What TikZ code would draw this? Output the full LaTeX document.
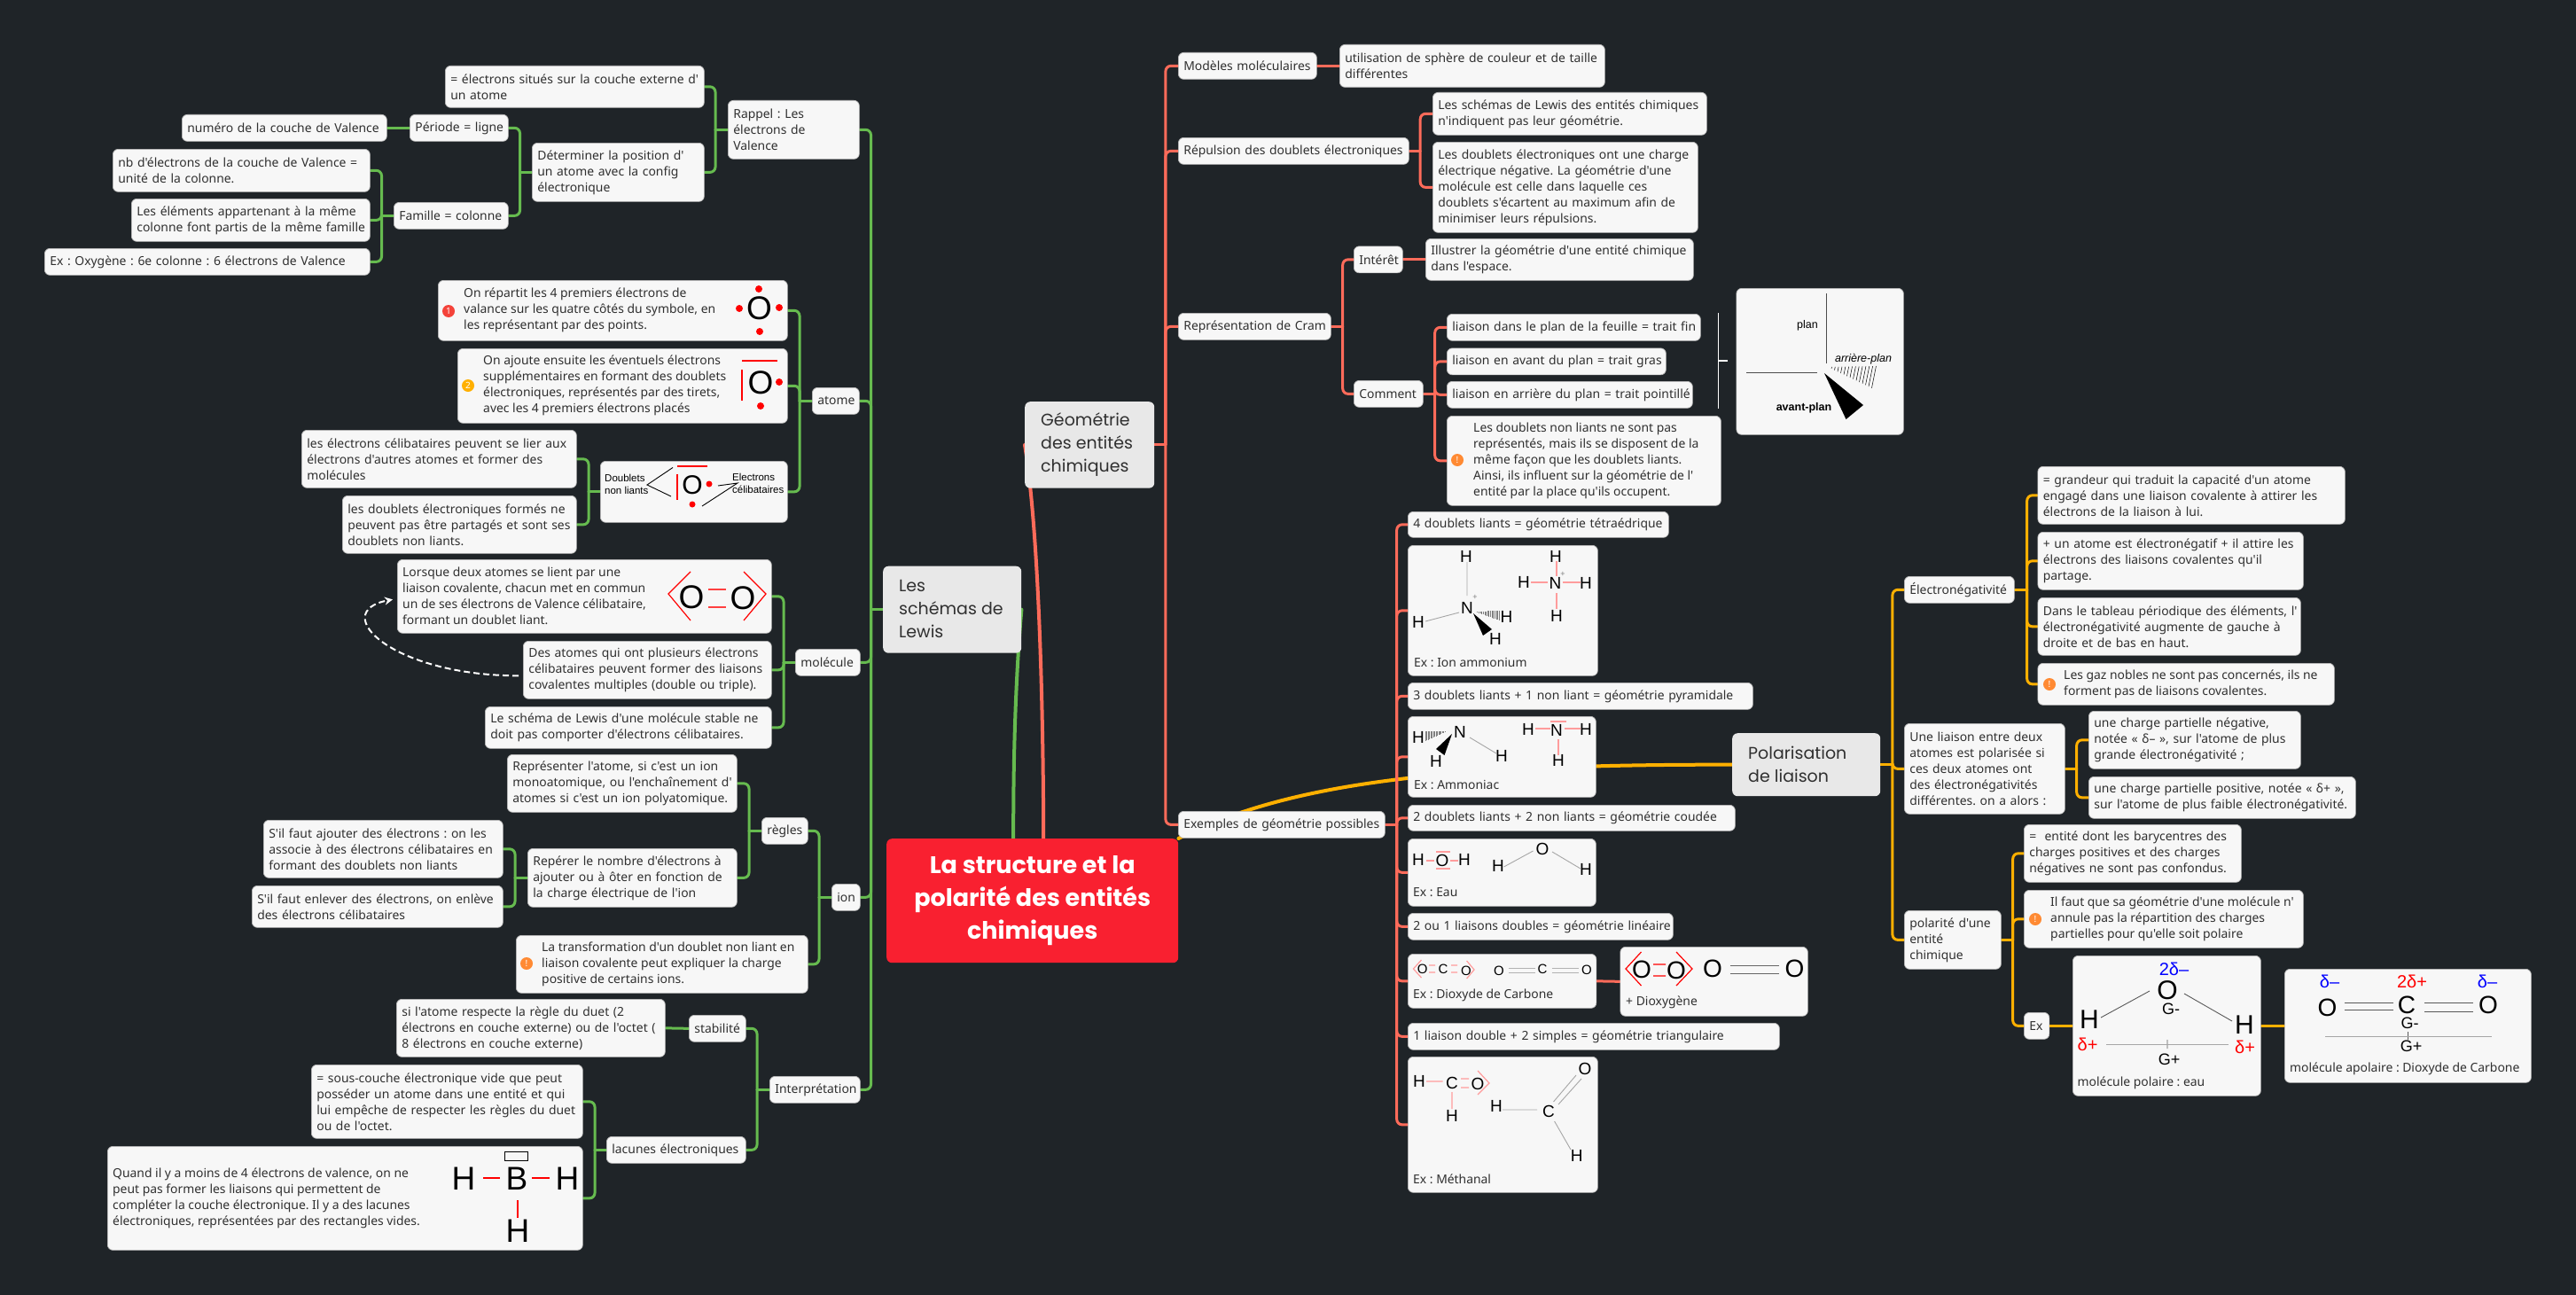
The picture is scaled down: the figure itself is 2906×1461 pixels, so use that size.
\documentclass[tikz,border=0pt]{standalone}
\usepackage{fontspec}
\newfontfamily\bodyfont{Noto Sans}
\newfontfamily\chemfont{Liberation Sans}
\newfontfamily\titlefont{Poppins}
\usetikzlibrary{arrows.meta,backgrounds,calc}
\definecolor{pagebg}{HTML}{1F2428}
\definecolor{leafbg}{HTML}{F7F7F7}
\definecolor{topicbg}{HTML}{E8E8E8}
\definecolor{rootred}{HTML}{F92030}
\definecolor{inkdark}{HTML}{303030}
\definecolor{lgreen}{HTML}{66BB4F}
\definecolor{lred}{HTML}{FF6B5A}
\definecolor{lgold}{HTML}{FFB000}
\definecolor{iconred}{HTML}{F4433A}
\definecolor{iconorange}{HTML}{FF8A33}
\definecolor{bondpink}{HTML}{FF9C9C}
\tikzset{
  leaf/.code 2 args={\pgfmathsetlengthmacro\leafw{#1-4}\tikzset{minimum width=#1,minimum height=#2,text width=\leafw}},
  box/.style={anchor=north west,draw=gray!55,line width=0.7,fill=leafbg,rounded corners=6,text=inkdark,inner xsep=2,inner ysep=0,align=left,
    font=\bodyfont\frenchspacing\fontsize{13.9}{18}\selectfont,execute at begin node={\leftskip=4pt}},
  plate/.style={anchor=north west,draw=gray!55,line width=0.7,fill=leafbg,rounded corners=6,inner sep=0},
  txt/.style={anchor=west,inner sep=0,text=inkdark,align=left,font=\bodyfont\frenchspacing\fontsize{13.9}{18}\selectfont},
  topic/.style={anchor=north west,fill=topicbg,rounded corners=6,inner sep=0,text=inkdark},
  topictxt/.style={anchor=west,inner sep=0,text=inkdark,align=left,font=\titlefont\fontsize{19}{26}\selectfont},
  icon/.style={circle,fill=#1,text=white,inner sep=0,minimum size=14,font=\bodyfont\fontsize{10}{10}\selectfont\bfseries},
  chemS/.style={inner sep=0,font=\chemfont\fontsize{19}{19}\selectfont},
  chemT/.style={inner sep=0,font=\chemfont\fontsize{15}{15}\selectfont},
  chemM/.style={inner sep=0,font=\chemfont\fontsize{28}{28}\selectfont},
  chemB/.style={inner sep=0,font=\chemfont\fontsize{30}{30}\selectfont},
  chemL/.style={inner sep=0,font=\chemfont\fontsize{37}{37}\selectfont},
  chemN/.style={inner sep=0,font=\chemfont\fontsize{18}{18}\selectfont},
  small/.style={inner sep=0,align=left,font=\chemfont\fontsize{11.5}{14}\selectfont},
  linkg/.style={draw=lgreen,line width=3,rounded corners=6,line cap=round},
  linkr/.style={draw=lred,line width=3,rounded corners=6,line cap=round},
  linky/.style={draw=lgold,line width=3,rounded corners=6,line cap=round},
  bond/.style={draw=bondpink,line width=1.2},
  redbond/.style={draw=red,line width=1.2},
  thinbond/.style={draw=gray!70,line width=0.9},
}

\begin{document}
\begin{tikzpicture}[x=1pt,y=-1pt]
\useasboundingbox (0,0) rectangle (2906,1461);
\begin{scope}[on background layer]
  \fill[pagebg] (0,0) rectangle (2906,1461);
\end{scope}

% centre
\node[anchor=north west,fill=rootred,rounded corners=6,minimum width=329,minimum height=140,text=white,align=center,inner sep=0,
  font=\titlefont\bfseries\fontsize{27}{37}\selectfont] (rootnode) at (1000,946) {La structure et la\\polarité des entités\\chimiques};

% les schemas de Lewis
\node[topic,minimum width=156,minimum height=98] (schemas) at (996,638.5) {};
\node[topictxt] (schemasT) at (1014,687) {Les\\schémas de\\Lewis};

\node[box,leaf={148}{66}] (rappel) at (821,113) {Rappel : Les\\électrons de\\Valence};
\node[box,leaf={292}{47}] (situes) at (502,74) {= électrons situés sur la couche externe d'\\un atome};
\node[box,leaf={194}{66}] (position) at (600,161) {Déterminer la position d'\\un atome avec la config\\électronique};
\node[box,leaf={111}{30}] (periode) at (462,129) {Période = ligne};
\node[box,leaf={231}{30}] (numero) at (205,129) {numéro de la couche de Valence};
\node[box,leaf={129}{30}] (famille) at (444,228) {Famille = colonne};
\node[box,leaf={290}{48}] (unite) at (127,168) {nb d'électrons de la couche de Valence =\\unité de la colonne.};
\node[box,leaf={269}{48}] (elements) at (148,224) {Les éléments appartenant à la même\\colonne font partis de la même famille};
\node[box,leaf={367}{30}] (oxygene) at (50,280) {Ex : Oxygène : 6e colonne : 6 électrons de Valence};

\node[box,leaf={53}{30}] (atome) at (916,437) {atome};
\node[plate,minimum width=394,minimum height=68] (repartit) at (494,316) {};
\node[icon=iconred] (repI) at (506,351) {1};
\node[txt] (repT) at (523,350) {On répartit les 4 premiers électrons de\\valance sur les quatre côtés du symbole, en\\les représentant par des points.};
\node[chemL] (repO) at (856.5,348) {O};
\foreach \px/\py in {856/326,834/348,879/347,857/374} \fill[red] (\px,\py) circle (4);
\node[plate,minimum width=372,minimum height=84] (ajoute) at (516,393) {};
\node[icon=lgold] (ajoI) at (528,435) {2};
\node[txt] (ajoT) at (545,435) {On ajoute ensuite les éventuels électrons\\supplémentaires en formant des doublets\\électroniques, représentés par des tirets,\\avec les 4 premiers électrons placés};
\node[chemL] (ajoO) at (858,432) {O};
\draw[redbond] (837,407) -- (877,407) (837,417) -- (837,452);
\foreach \px/\py in {879/431,858/458} \fill[red] (\px,\py) circle (4);
\node[plate,minimum width=211,minimum height=69] (nonliants) at (677,520) {};
\node[small,anchor=west] (nonT) at (682,546) {Doublets\\non liants};
\node[chemB] (nonO) at (781,547) {O};
\node[small,anchor=west] (celT) at (826,545) {Electrons\\célibataires};
\draw[thinbond,draw=black] (759,527.5) -- (730,547) -- (757,560);
\draw[thinbond,draw=black] (810,548) -- (832,545) -- (792,571);
\draw[redbond] (764,526) -- (798,526) (764,535) -- (764,564);
\foreach \px/\py in {800/546,781/569} \fill[red] (\px,\py) circle (3.5);
\node[box,leaf={310}{65}] (lier) at (340,485) {les électrons célibataires peuvent se lier aux\\électrons d'autres atomes et former des\\molécules};
\node[box,leaf={264}{65}] (partages) at (386,559) {les doublets électroniques formés ne\\peuvent pas être partagés et sont ses\\doublets non liants.};

\node[box,leaf={73}{30}] (molecule) at (897,732) {molécule};
\node[plate,minimum width=422,minimum height=83] (lorsque) at (448,631) {};
\node[txt] (lorT) at (454,672.5) {Lorsque deux atomes se lient par une\\liaison covalente, chacun met en commun\\un de ses électrons de Valence célibataire,\\formant un doublet liant.};
\node[chemL] (lorA) at (780,674) {O};
\node[chemL] (lorB) at (838,675) {O};
\draw[redbond] (779,645) -- (754,670) -- (779,700) (839,645) -- (864,670) -- (839,700);
\draw[redbond,red!75!white] (799,665) -- (819,665) (799,685) -- (819,685);
\node[box,leaf={280}{65}] (multiples) at (590,723) {Des atomes qui ont plusieurs électrons\\célibataires peuvent former des liaisons\\covalentes multiples (double ou triple).};
\node[box,leaf={323}{47}] (stable) at (547,797) {Le schéma de Lewis d'une molécule stable ne\\doit pas comporter d'électrons célibataires.};

\node[box,leaf={32}{30}] (ion) at (938,997) {ion};
\node[box,leaf={52}{30}] (regles) at (859,922) {règles};
\node[box,leaf={259}{65}] (represente) at (572,851) {Représenter l'atome, si c'est un ion\\monoatomique, ou l'enchaînement d'\\atomes si c'est un ion polyatomique.};
\node[box,leaf={236}{66}] (reperer) at (595,957) {Repérer le nombre d'électrons à\\ajouter ou à ôter en fonction de\\la charge électrique de l'ion};
\node[box,leaf={270}{65}] (ajouter) at (297,925) {S'il faut ajouter des électrons : on les\\associe à des électrons célibataires en\\formant des doublets non liants};
\node[box,leaf={283}{47}] (enlever) at (284,999) {S'il faut enlever des électrons, on enlève\\des électrons célibataires};
\node[plate,minimum width=329,minimum height=65] (transfo) at (582,1055) {};
\node[icon=iconorange] (traI) at (594,1087) {!};
\node[txt] (traT) at (611,1087.5) {La transformation d'un doublet non liant en\\liaison covalente peut expliquer la charge\\positive de certains ions.};

\node[box,leaf={102}{30}] (interp) at (868,1214) {Interprétation};
\node[box,leaf={64}{30}] (stabilite) at (777,1145) {stabilité};
\node[box,leaf={303}{65}] (duet) at (447,1127) {si l'atome respecte la règle du duet (2\\électrons en couche externe) ou de l'octet (\\8 électrons en couche externe)};
\node[box,leaf={157}{30}] (lacunes) at (684,1282) {lacunes électroniques};
\node[box,leaf={306}{83}] (souscouche) at (351,1201) {= sous-couche électronique vide que peut\\posséder un atome dans une entité et qui\\lui empêche de respecter les règles du duet\\ou de l'octet.};
\node[plate,minimum width=536,minimum height=117] (quand) at (121,1293) {};
\node[txt] (quaT) at (127,1352) {Quand il y a moins de 4 électrons de valence, on ne\\peut pas former les liaisons qui permettent de\\compléter la couche électronique. Il y a des lacunes\\électroniques, représentées par des rectangles vides.};
\node[chemL] (quaH) at (523,1330) {H};
\node[chemL] (quaB) at (583,1330) {B};
\node[chemL] (quaI) at (640,1330) {H};
\node[chemL] (quaJ) at (584,1389) {H};
\draw[black,fill=leafbg,line width=1] (569,1299) rectangle (595,1309);
\draw[redbond] (545,1329) -- (564,1329) (600,1329) -- (620,1329) (584,1354) -- (584,1374);

% geometrie
\node[topic,minimum width=146,minimum height=97.5] (geometrie) at (1156,453) {};
\node[topictxt] (geometrieT) at (1174,502) {Géométrie\\des entités\\chimiques};

\node[box,leaf={156}{30}] (modeles) at (1329,59) {Modèles moléculaires};
\node[box,leaf={299}{48}] (sphere) at (1511,50) {utilisation de sphère de couleur et de taille\\différentes};
\node[box,leaf={260}{30}] (repulsion) at (1329,155) {Répulsion des doublets électroniques};
\node[box,leaf={309}{48}] (indiquent) at (1616,104) {Les schémas de Lewis des entités chimiques\\n'indiquent pas leur géométrie.};
\node[box,leaf={299}{102}] (charge) at (1616,160) {Les doublets électroniques ont une charge\\électrique négative. La géométrie d'une\\molécule est celle dans laquelle ces\\doublets s'écartent au maximum afin de\\minimiser leurs répulsions.};
\node[box,leaf={172}{30}] (cram) at (1329,353) {Représentation de Cram};
\node[box,leaf={55}{30}] (interet) at (1527,277.5) {Intérêt};
\node[box,leaf={302}{47}] (illustrer) at (1608,269) {Illustrer la géométrie d'une entité chimique\\dans l'espace.};
\node[box,leaf={78}{30}] (comment) at (1527,429) {Comment};
\node[box,leaf={286}{30}] (traitfin) at (1632,354) {liaison dans le plan de la feuille = trait fin};
\node[box,leaf={247}{30}] (traitgras) at (1632,392.5) {liaison en avant du plan = trait gras};
\node[box,leaf={277}{30}] (traitpoint) at (1632,430) {liaison en arrière du plan = trait pointillé};
\node[plate,minimum width=309,minimum height=101] (nonrepr) at (1632,469) {};
\node[icon=iconorange] (nonI) at (1644,519) {!};
\node[txt] (nonreprT) at (1662,519.5) {Les doublets non liants ne sont pas\\représentés, mais ils se disposent de la\\même façon que les doublets liants.\\Ainsi, ils influent sur la géométrie de l'\\entité par la place qu'ils occupent.};
\node[plate,minimum width=188.5,minimum height=165] (cramimg) at (1958.5,325) {};
\node[small,font=\chemfont\fontsize{12.5}{14}\selectfont] (plan) at (2039,367) {plan};
\node[small,font=\chemfont\itshape\fontsize{12.5}{14}\selectfont] (arriere) at (2102,405) {arrière-plan};
\node[small,font=\chemfont\bfseries\fontsize{12.5}{14}\selectfont] (avant) at (2035,460) {avant-plan};
\draw[gray!60!black,line width=1] (2060,331) -- (2060,410) (1970,420) -- (2050,420);
\foreach \t in {0.08,0.15,...,1} \draw[black,line width=0.5] ($(2062,414)!\t!(2117,413)$) -- ($(2062,414)!\t!(2112,438)$);
\fill[black] (2058,421) -- (2102,457) -- (2082.5,473) -- cycle;
\draw[white,line width=1.2] (1938.5,353) -- (1938.5,461) (1938.5,407) -- (1949,407);

\node[box,leaf={233}{30}] (exemples) at (1329,915) {Exemples de géométrie possibles};
\node[box,leaf={294}{29}] (quatre) at (1588,577) {4 doublets liants = géométrie tétraédrique};
\node[plate,minimum width=214,minimum height=147] (ammonium) at (1588,615) {};
\node[txt] (ammoniumT) at (1595,747) {Ex : Ion ammonium};
\node[chemS] (amA) at (1654,628) {H};
\node[chemS] (amN) at (1655,686) {N};
\node[chemS] (amB) at (1600,702) {H};
\node[chemS] (amC) at (1699.5,696) {H};
\node[chemS] (amD) at (1687,721) {H};
\node[inner sep=0,font=\chemfont\fontsize{9}{9}\selectfont,text=gray] (amP) at (1664,674) {+};
\draw[thinbond] (1655,634) -- (1655,672) (1608,701) -- (1646,691);
\foreach \t in {0.1,0.16,...,1} \draw[gray,line width=0.5] ($(1664,690)!\t!(1691,689)$) -- ($(1664,690)!\t!(1691,700)$);
\fill[black] (1662,692) -- (1683,710) -- (1673,717) -- cycle;
\node[chemS] (alA) at (1755,628) {H};
\node[chemS] (alN) at (1754.5,658) {N};
\node[chemS] (alB) at (1719,657) {H};
\node[chemS] (alC) at (1789,658) {H};
\node[chemS] (alD) at (1756,695) {H};
\node[inner sep=0,font=\chemfont\fontsize{9}{9}\selectfont,text=gray] (alP) at (1763,648) {+};
\draw[bond] (1756,633) -- (1756,650) (1727,657) -- (1746,657) (1763,657) -- (1783,657) (1756,669) -- (1756,687);

\node[box,leaf={389}{30}] (trois) at (1588,770) {3 doublets liants + 1 non liant = géométrie pyramidale};
\node[plate,minimum width=212,minimum height=91] (ammoniac) at (1588,808) {};
\node[txt] (ammoniacT) at (1595,885) {Ex : Ammoniac};
\node[chemS] (acA) at (1600,832) {H};
\node[chemS] (acN) at (1647,826) {N};
\node[chemS] (acB) at (1620,859) {H};
\node[chemS] (acC) at (1694,853) {H};
\foreach \t in {0.1,0.16,...,1} \draw[gray,line width=0.5] ($(1632.6,825)!\t!(1608,825)$) -- ($(1632.6,825)!\t!(1608,836)$);
\fill[black] (1638,828) -- (1620,845) -- (1629.5,852) -- cycle;
\draw[thinbond] (1658,832) -- (1688,850);
\node[chemS] (abA) at (1724,823) {H};
\node[chemS] (abN) at (1756,824) {N};
\node[chemS] (abB) at (1789,823) {H};
\node[chemS] (abC) at (1758,858) {H};
\draw[bond] (1732,822) -- (1749,822) (1749,814) -- (1766.5,814) (1765,822) -- (1783,822) (1758,834) -- (1758,852);

\node[box,leaf={369}{29}] (deux) at (1588,908) {2 doublets liants + 2 non liants = géométrie coudée};
\node[plate,minimum width=212,minimum height=76] (eau) at (1588,946) {};
\node[txt] (eauT) at (1594,1007) {Ex : Eau};
\node[chemS] (euA) at (1600,970) {H};
\node[chemS] (euO) at (1627,971) {O};
\node[chemS] (euB) at (1652,970) {H};
\draw[bond] (1609,971) -- (1618,971) (1620,961) -- (1636,961) (1620,980) -- (1636,980) (1636,971) -- (1645,971);
\node[chemS] (evA) at (1690,977) {H};
\node[chemS] (evO) at (1740,958) {O};
\node[chemS] (evB) at (1789,981) {H};
\draw[thinbond] (1696.5,978) -- (1729.5,960) (1751,961) -- (1783,980);

\node[box,leaf={299}{30}] (lineaire) at (1588,1030) {2 ou 1 liaisons doubles = géométrie linéaire};
\node[plate,minimum width=212.5,minimum height=61] (dioxyde) at (1588,1076) {};
\node[txt] (dioxydeT) at (1594,1123) {Ex : Dioxyde de Carbone};
\node[chemT] (dxA) at (1604.6,1093) {O};
\node[chemT] (dxC) at (1628,1093) {C};
\node[chemT] (dxB) at (1654,1095) {O};
\draw[bond] (1603.5,1083) -- (1594.4,1093) -- (1603.5,1103) (1654.6,1084) -- (1663,1094) -- (1654.6,1104)
  (1612,1089) -- (1619,1089) (1612,1097) -- (1619,1097) (1637,1089) -- (1644,1089) (1637,1097) -- (1644,1097);
\node[chemT] (dyA) at (1691,1095) {O};
\node[chemT] (dyC) at (1740,1093) {C};
\node[chemT] (dyB) at (1790,1094) {O};
\draw[thinbond,gray!60] (1701.5,1092) -- (1732,1092) (1701.5,1097) -- (1732,1097) (1750.5,1092) -- (1780.6,1092) (1750.5,1097) -- (1780.6,1097);
\node[plate,minimum width=211.5,minimum height=78] (dioxygene) at (1827.5,1068) {};
\node[txt] (dioxygeneT) at (1834,1131) {+ Dioxygène};
\node[chemM] (doA) at (1852,1094) {O};
\node[chemM] (doB) at (1891,1095) {O};
\draw[redbond] (1851.5,1074) -- (1834,1093) -- (1851.5,1112) (1891,1074) -- (1909,1093) -- (1891,1112) (1865,1088) -- (1879,1088) (1865,1101) -- (1879,1101);
\node[chemM] (dpA) at (1932,1093) {O};
\node[chemM] (dpB) at (2024.5,1093) {O};
\draw[thinbond,gray!80!black] (1951.5,1089) -- (2006.6,1089) (1951.5,1098) -- (2006.6,1098);

\node[box,leaf={419}{30}] (triangle) at (1588,1154) {1 liaison double + 2 simples = géométrie triangulaire};
\node[plate,minimum width=214,minimum height=153] (methanal) at (1588,1192) {};
\node[txt] (methanalT) at (1594,1330) {Ex : Méthanal};
\node[chemS] (meH) at (1601,1220) {H};
\node[chemS] (meC) at (1638,1222) {C};
\node[chemS] (meO) at (1667,1223) {O};
\node[chemS] (meI) at (1638,1259) {H};
\draw[bond] (1609,1220) -- (1627.5,1220) (1648,1217) -- (1657,1217) (1648,1227) -- (1657,1227)
  (1667,1208) -- (1680,1222) -- (1667,1235) (1638,1232) -- (1638,1251);
\node[chemS] (mfH) at (1688,1248) {H};
\node[chemS] (mfC) at (1747,1254) {C};
\node[chemS] (mfO) at (1788,1206) {O};
\node[chemS] (mfI) at (1778.6,1304) {H};
\draw[thinbond] (1695,1252) -- (1734,1252) (1752.5,1243) -- (1778,1213) (1758,1246) -- (1784,1217) (1753.6,1265) -- (1772,1297);

% polarisation
\node[topic,minimum width=167,minimum height=71] (polar) at (1954,827) {};
\node[topictxt] (polarT) at (1972,862.5) {Polarisation\\de liaison};

\node[box,leaf={124}{30}] (electroneg) at (2148,650) {Électronégativité};
\node[box,leaf={346.5}{65}] (grandeur) at (2298.5,526) {= grandeur qui traduit la capacité d'un atome\\engagé dans une liaison covalente à attirer les\\électrons de la liaison à lui.};
\node[box,leaf={299.5}{65}] (attire) at (2298.5,600) {+ un atome est électronégatif + il attire les\\électrons des liaisons covalentes qu'il\\partage.};
\node[box,leaf={296.5}{65}] (tableau) at (2298.5,674) {Dans le tableau périodique des éléments, l'\\électronégativité augmente de gauche à\\droite et de bas en haut.};
\node[plate,minimum width=334.5,minimum height=47] (gaz) at (2298.5,748) {};
\node[icon=iconorange] (gazI) at (2312,772) {!};
\node[txt] (gazT) at (2328,771.5) {Les gaz nobles ne sont pas concernés, ils ne\\forment pas de liaisons covalentes.};
\node[box,leaf={181}{102}] (uneliaison) at (2148,816) {Une liaison entre deux\\atomes est polarisée si\\ces deux atomes ont\\des électronégativités\\différentes. on a alors :};
\node[box,leaf={239}{65}] (negative) at (2356,802) {une charge partielle négative,\\notée « δ– », sur l'atome de plus\\grande électronégativité ;};
\node[box,leaf={301}{47}] (positive) at (2356,876) {une charge partielle positive, notée « δ+ »,\\sur l'atome de plus faible électronégativité.};
\node[box,leaf={109}{66}] (polarite) at (2148,1027) {polarité d'une\\entité\\chimique};
\node[box,leaf={245}{65}] (barycentre) at (2283,930) {=\ \ entité dont les barycentres des\\charges positives et des charges\\négatives ne sont pas confondus.};
\node[plate,minimum width=315,minimum height=65] (annule) at (2283,1004) {};
\node[icon=iconorange] (annI) at (2296,1037) {!};
\node[txt] (annT) at (2313,1036.5) {Il faut que sa géométrie d'une molécule n'\\annule pas la répartition des charges\\partielles pour qu'elle soit polaire};
\node[box,leaf={28.5}{30}] (exempleB) at (2283,1142) {Ex};
\node[plate,minimum width=212,minimum height=158] (eaupol) at (2338,1078) {};
\node[txt] (eaupolT) at (2343.5,1222) {molécule polaire : eau};
\node[chemN,text=blue,font=\chemfont\fontsize{20}{20}\selectfont] (wdA) at (2452.5,1093) {2δ–};
\node[chemB] (wO) at (2445,1117) {O};
\node[chemN] (wGm) at (2449,1138) {G-};
\node[chemB] (wH) at (2357,1150) {H};
\node[chemB] (wI) at (2532,1156) {H};
\node[chemN,text=red,font=\chemfont\fontsize{20}{20}\selectfont] (wdB) at (2355,1178) {δ+};
\node[chemN,text=red,font=\chemfont\fontsize{20}{20}\selectfont] (wdC) at (2532.5,1181) {δ+};
\node[chemN] (wGp) at (2447,1195) {G+};
\draw[thinbond,draw=gray!70!black] (2370,1148) -- (2425,1118) (2464,1121) -- (2518,1152) (2445,1173) -- (2445,1183);
\draw[thinbond] (2376,1178) -- (2513.6,1178);
\node[plate,minimum width=278,minimum height=128] (co2pol) at (2577,1093) {};
\node[txt] (co2polT) at (2583,1206) {molécule apolaire : Dioxyde de Carbone};
\node[chemN,text=blue,font=\chemfont\fontsize{20}{20}\selectfont] (cdA) at (2628,1107) {δ–};
\node[chemN,text=red,font=\chemfont\fontsize{20}{20}\selectfont] (cdB) at (2721,1107) {2δ+};
\node[chemN,text=blue,font=\chemfont\fontsize{20}{20}\selectfont] (cdC) at (2806,1107) {δ–};
\node[chemM] (cO) at (2625.5,1137) {O};
\node[chemM] (cC) at (2715,1134) {C};
\node[chemM] (cP) at (2807,1134) {O};
\node[chemN] (cGm) at (2718.6,1154) {G-};
\node[chemN] (cGp) at (2720,1180) {G+};
\draw[thinbond,draw=gray!70!black] (2644.5,1131) -- (2700,1131) (2644.5,1139) -- (2700,1139) (2734.6,1131) -- (2790,1131) (2734.6,1141) -- (2790,1141) (2716.7,1164) -- (2716.7,1173);
\draw[thinbond] (2623,1169) -- (2811,1169);

% connecteurs
\begin{scope}[on background layer]
\draw[linkg,line width=4] ([xshift=-21.5]rootnode.north) .. controls (1143,850) and (1146,760) .. (schemas.east);
\draw[linkr,line width=4] ([xshift=12.5]rootnode.north) .. controls (1177,800) and (1172,600) .. (geometrie.west);
\draw[linky,line width=4] (rootnode.north east) .. controls (1450,885) and (1620,862) .. (polar.west);

\draw[linkg] (schemas.west) -- ++(-13.5,0) coordinate (tg);
\foreach \kid in {rappel,atome,molecule,ion,interp} \draw[linkg] (tg) |- (\kid.east);
\draw[linkg] (rappel.west) -- ++(-14,0) coordinate (tg);
\foreach \kid in {situes,position} \draw[linkg] (tg) |- (\kid.east);
\draw[linkg] (position.west) -- ++(-13.5,0) coordinate (tg);
\foreach \kid in {periode,famille} \draw[linkg] (tg) |- (\kid.east);
\draw[linkg] (periode.west) -- (numero.east);
\draw[linkg] (famille.west) -- ++(-13.5,0) coordinate (tg);
\foreach \kid in {unite,elements,oxygene} \draw[linkg] (tg) |- (\kid.east);
\draw[linkg] (atome.west) -- ++(-14,0) coordinate (tg);
\foreach \kid in {repartit,ajoute,nonliants} \draw[linkg] (tg) |- (\kid.east);
\draw[linkg] (nonliants.west) -- ++(-13,0) coordinate (tg);
\foreach \kid in {lier,partages} \draw[linkg] (tg) |- (\kid.east);
\draw[linkg] (molecule.west) -- ++(-13,0) coordinate (tg);
\foreach \kid in {lorsque,multiples,stable} \draw[linkg] (tg) |- (\kid.east);
\draw[linkg] (ion.west) -- ++(-14,0) coordinate (tg);
\foreach \kid in {regles,transfo} \draw[linkg] (tg) |- (\kid.east);
\draw[linkg] (regles.west) -- ++(-14,0) coordinate (tg);
\foreach \kid in {represente,reperer} \draw[linkg] (tg) |- (\kid.east);
\draw[linkg] (reperer.west) -- ++(-14,0) coordinate (tg);
\foreach \kid in {ajouter,enlever} \draw[linkg] (tg) |- (\kid.east);
\draw[linkg] (interp.west) -- ++(-14,0) coordinate (tg);
\foreach \kid in {stabilite,lacunes} \draw[linkg] (tg) |- (\kid.east);
\draw[linkg] (stabilite.west) -- (duet.east);
\draw[linkg] (lacunes.west) -- ++(-13,0) coordinate (tg);
\foreach \kid in {souscouche,quand} \draw[linkg] (tg) |- (\kid.east);

\draw[linkr] (geometrie.east) -- ++(12.5,0) coordinate (tr);
\foreach \kid in {modeles,repulsion,cram,exemples} \draw[linkr] (tr) |- (\kid.west);
\draw[linkr] (modeles.east) -- (sphere.west);
\draw[linkr] (repulsion.east) -- ++(12.5,0) coordinate (tr);
\foreach \kid in {indiquent,charge} \draw[linkr] (tr) |- (\kid.west);
\draw[linkr] (cram.east) -- ++(13,0) coordinate (tr);
\foreach \kid in {interet,comment} \draw[linkr] (tr) |- (\kid.west);
\draw[linkr] (interet.east) -- (illustrer.west);
\draw[linkr] (comment.east) -- ++(13,0) coordinate (tr);
\foreach \kid in {traitfin,traitgras,traitpoint,nonrepr} \draw[linkr] (tr) |- (\kid.west);
\draw[linkr] (exemples.east) -- ++(13,0) coordinate (tr);
\foreach \kid in {quatre,ammonium,trois,ammoniac,deux,eau,lineaire,dioxyde,triangle,methanal} \draw[linkr] (tr) |- (\kid.west);
\draw[linkr] (dioxyde.east) -- (dioxygene.west);

\draw[linky] (polar.east) -- ++(13.5,0) coordinate (ty);
\foreach \kid in {electroneg,uneliaison,polarite} \draw[linky] (ty) |- (\kid.west);
\draw[linky] (electroneg.east) -- ++(14,0) coordinate (ty);
\foreach \kid in {grandeur,attire,tableau,gaz} \draw[linky] (ty) |- (\kid.west);
\draw[linky] (uneliaison.east) -- ++(13,0) coordinate (ty);
\foreach \kid in {negative,positive} \draw[linky] (ty) |- (\kid.west);
\draw[linky] (polarite.east) -- ++(13,0) coordinate (ty);
\foreach \kid in {barycentre,annule,exempleB} \draw[linky] (ty) |- (\kid.west);
\draw[linky] (exempleB.east) -- (eaupol.west);
\draw[linky] (eaupol.east) -- (co2pol.west);
\end{scope}

\draw[white,line width=2,dash pattern=on 7pt off 4pt,-{Stealth[length=9pt,width=9pt]}] ([shift={(-5,6.5)}]multiples.west) .. controls (440,762) and (370,690) .. ([shift={(-5,3.5)}]lorsque.west);
\end{tikzpicture}
\end{document}
